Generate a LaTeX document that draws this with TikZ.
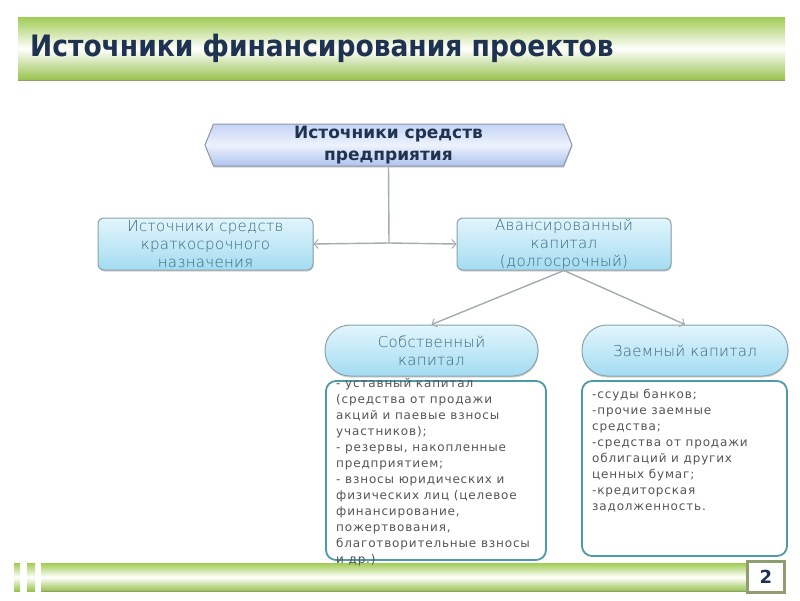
\documentclass[tikz,border=0pt]{standalone}
\usepackage{fontspec}
\setmainfont{DejaVu Sans}
\newfontfamily\titlefont{DejaVu Sans Condensed}
\newfontfamily\lightfont[LetterSpace=2]{DejaVu Sans ExtraLight}
\newfontfamily\bodyfont[LetterSpace=7]{DejaVu Sans}
\usetikzlibrary{arrows.meta,shapes.symbols,shadows}
\definecolor{navy}{HTML}{1F3350}
\definecolor{gbar}{HTML}{A2CC55}
\definecolor{gbarD}{HTML}{97C24C}
\definecolor{gedge}{HTML}{8E9E70}
\definecolor{cyTop}{HTML}{E2F5FC}
\definecolor{cyBot}{HTML}{A3DCF2}
\definecolor{cyEdge}{HTML}{8AA2AA}
\definecolor{hxTop}{HTML}{C4D4F4}
\definecolor{hxMid}{HTML}{EDF2FC}
\definecolor{hxBot}{HTML}{AEC3EE}
\definecolor{hxEdge}{HTML}{8C96A6}
\definecolor{lowEdge}{HTML}{4E9AA6}
\definecolor{cyText}{HTML}{3A6678}
\definecolor{bodyText}{HTML}{555555}
\definecolor{conn}{HTML}{A3ABB3}
\tikzset{
  greenbar/.style={draw=none, top color=gbar, bottom color=gbarD, middle color=white, inner sep=0pt},
  cyanbox/.style={rounded corners=6pt, draw=cyEdge, line width=1pt, top color=cyTop, bottom color=cyBot,
    minimum width=215pt, minimum height=52pt, align=center, text=cyText, inner sep=0pt,
    font=\lightfont\fontsize{15}{18}\selectfont,
    drop shadow={opacity=0.35, shadow xshift=0.5pt, shadow yshift=-1.5pt}},
  pillbox/.style={cyanbox, rounded corners=25pt, minimum height=51pt},
  lowbox/.style={rounded corners=10pt, draw=lowEdge, line width=1.8pt, fill=white, inner sep=0pt},
  lowtext/.style={anchor=north west, align=left, text=bodyText, inner sep=0pt,
    font=\bodyfont\fontsize{12}{16}\selectfont},
  conline/.style={draw=conn, line width=1.4pt},
  conarrow/.style={conline, -{Straight Barb[length=4pt,width=9pt,line width=1pt]}},
}
\begin{document}
\begin{tikzpicture}[x=1pt,y=-1pt]
\useasboundingbox (0,0) rectangle (800,600);
\fill[white] (0,0) rectangle (800,600);
% title bar
\node[greenbar, minimum width=767pt, minimum height=63pt, anchor=north west] (tbar) at (18,17) {};
\draw[gedge, line width=1.5pt] (tbar.south west) -- (tbar.south east);
\node[anchor=west, inner sep=0pt, text=navy, font=\titlefont\bfseries\fontsize{29.5}{32}\selectfont] (title) at (30,48) {Источники финансирования проектов};
% top hexagon
\node[signal, signal to=west and east, signal pointer angle=136, draw=hxEdge, line width=1pt,
  top color=hxTop, bottom color=hxBot, middle color=hxMid, minimum width=367pt, minimum height=42pt,
  inner sep=0pt, align=center, text=navy, font=\bfseries\fontsize{17}{22}\selectfont,
  drop shadow={opacity=0.35, shadow xshift=0.5pt, shadow yshift=-1.5pt}] (top) at (388.5,145) {Источники средств\\предприятия};
% middle boxes
\node[cyanbox] (left) at (205.5,244) {Источники средств\\краткосрочного\\назначения};
\node[cyanbox, minimum width=214pt] (right) at (564,244) {Авансированный\\капитал\\(долгосрочный)};
\coordinate (j) at (389,243);
\draw[conline] (top.south) -- (j);
\draw[conarrow] (j) -- (left.east);
\draw[conarrow] (j) -- (right.west);
% pills
\node[pillbox, minimum width=213pt] (own) at (431.5,350.5) {Собственный\\капитал};
\node[pillbox, minimum width=206pt] (loan) at (685,350.5) {Заемный капитал};
\draw[conarrow] (right.south) -- (own.north);
\draw[conarrow] (right.south) -- (loan.north);
% bottom bar
\node[greenbar, minimum width=6pt, minimum height=28pt, anchor=north west] (s1) at (14,563) {};
\node[greenbar, minimum width=8pt, minimum height=28pt, anchor=north west] (s2) at (27,563) {};
\node[greenbar, minimum width=705pt, minimum height=28pt, anchor=north west] (bbar) at (41,563) {};
\draw[gedge, line width=1pt] (bbar.south west) -- (bbar.south east);
% lower boxes
\node[lowbox, minimum width=220pt, minimum height=179pt] (ownbox) at (436,470.5) {};
\node[lowtext] (owntext) at (336,378) {- уставный капитал\\(средства от продажи\\акций и паевые взносы\\участников);\\- резервы, накопленные\\предприятием;\\- взносы юридических и\\физических лиц (целевое\\финансирование,\\пожертвования,\\благотворительные взносы\\и др.)};
\node[lowtext] (loantext) at (592,389) {-ссуды банков;\\-прочие заемные\\средства;\\-средства от продажи\\облигаций и других\\ценных бумаг;\\-кредиторская\\задолженность.};
\node[lowbox, minimum width=205pt, minimum height=175pt, fill=none] (loanbox) at (684.5,468.5) {};
% page number
\node[draw=gedge, line width=3pt, fill=white, minimum width=37pt, minimum height=31pt, inner sep=0pt,
  text=navy, font=\bfseries\fontsize{18}{20}\selectfont] (num) at (766,577) {2};
\end{tikzpicture}
\end{document}
